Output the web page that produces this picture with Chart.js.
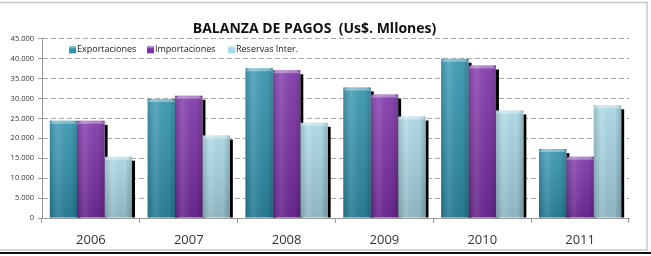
<!DOCTYPE html>
<html>
<head>
<meta charset="utf-8">
<script src="https://cdn.jsdelivr.net/npm/chart.js@4.4.1/dist/chart.umd.min.js"></script>
<style>
  html, body { margin: 0; padding: 0; background: #fff; }
  #wrap { width: 651px; height: 256px; position: relative; }
</style>
</head>
<body>
<div id="wrap"><canvas id="chart" width="651" height="256"></canvas></div>
<script>
// Datos (US$ millones)
const years = ["2006", "2007", "2008", "2009", "2010", "2011"];
const exportaciones = [24400, 29900, 37600, 32800, 40000, 17300];
const importaciones = [24400, 30700, 37100, 31000, 38300, 15400];
const reservas = [15400, 20700, 23900, 25500, 27000, 28300];
const seriesNames = ["Exportaciones", "Importaciones", "Reservas Inter."];
const seriesColors = ["#2E93B0", "#7B2EA8", "#A9D8E7"];

function fmt(v) {
    // separador de miles con punto
    return String(v).replace(/\B(?=(\d{3})+(?!\d))/g, ".");
}

// Sombra negra a la derecha de cada barra
const shadowPlugin = {
    id: "shadows",
    beforeDatasetsDraw(chart) {
        const ctx = chart.ctx;
        ctx.save();
        ctx.fillStyle = "#000";
        chart.data.datasets.forEach((ds, i) => {
            chart.getDatasetMeta(i).data.forEach(bar => {
                const right = bar.x + bar.width / 2;
                ctx.fillRect(right, bar.y + 4, 3, bar.base - bar.y - 4);
            });
        });
        ctx.restore();
    }
};

// Brillo y bisel de cada barra
const shinePlugin = {
    id: "shine",
    afterDatasetsDraw(chart) {
        const ctx = chart.ctx;
        ctx.save();
        chart.data.datasets.forEach((ds, i) => {
            chart.getDatasetMeta(i).data.forEach(bar => {
                const left = bar.x - bar.width / 2;
                const w = bar.width;
                const h = bar.base - bar.y;
                let g = ctx.createLinearGradient(left, 0, left + w, 0);
                g.addColorStop(0, "rgba(0,0,0,0.18)");
                g.addColorStop(0.3, "rgba(255,255,255,0.12)");
                g.addColorStop(0.75, "rgba(0,0,0,0.02)");
                g.addColorStop(1, "rgba(0,0,0,0.22)");
                ctx.fillStyle = g;
                ctx.fillRect(left, bar.y, w, h);
                let v = ctx.createLinearGradient(0, bar.y, 0, bar.base);
                v.addColorStop(0, "rgba(255,255,255,0.12)");
                v.addColorStop(1, "rgba(0,0,0,0.14)");
                ctx.fillStyle = v;
                ctx.fillRect(left, bar.y, w, h);
                // tapa superior
                ctx.fillStyle = "rgba(255,255,255,0.35)";
                ctx.beginPath();
                ctx.moveTo(left, bar.y + 3);
                ctx.lineTo(left + 3, bar.y);
                ctx.lineTo(left + w - 3, bar.y);
                ctx.lineTo(left + w, bar.y + 3);
                ctx.closePath();
                ctx.fill();
            });
        });
        ctx.restore();
    }
};

// Leyenda dentro del área del gráfico y marco exterior
const framePlugin = {
    id: "frame",
    afterDraw(chart) {
        const ctx = chart.ctx;
        const area = chart.chartArea;
        ctx.save();
        ctx.font = "9px 'Open Sans', sans-serif";
        ctx.textBaseline = "middle";
        const y = area.top + 11;
        let x = area.left + 27;
        const gaps = [78, 81, 0];
        chart.data.datasets.forEach((ds, i) => {
            ctx.fillStyle = ds.backgroundColor;
            ctx.fillRect(x, y - 3.5, 7, 7);
            ctx.fillStyle = "rgba(255,255,255,0.35)";
            ctx.fillRect(x, y - 3.5, 7, 2);
            ctx.fillStyle = "#222";
            ctx.fillText(ds.label, x + 8, y);
            x += gaps[i];
        });
        ctx.strokeStyle = "#c8c8c8";
        ctx.lineWidth = 1.5;
        ctx.strokeRect(-2, 2.5, 649, 247.5);
        ctx.strokeStyle = "#111";
        ctx.lineWidth = 2;
        ctx.beginPath();
        ctx.moveTo(0, 253);
        ctx.lineTo(651, 253);
        ctx.stroke();
        ctx.restore();
    }
};

new Chart(document.getElementById("chart"), {
    type: "bar",
    data: {
        labels: years,
        datasets: [
            { label: seriesNames[0], data: exportaciones, backgroundColor: seriesColors[0] },
            { label: seriesNames[1], data: importaciones, backgroundColor: seriesColors[1] },
            { label: seriesNames[2], data: reservas, backgroundColor: seriesColors[2] }
        ]
    },
    options: {
        responsive: false,
        animation: false,
        layout: { padding: { left: 0, right: 22, top: 1, bottom: 0 } },
        datasets: { bar: { barPercentage: 1, categoryPercentage: 0.84 } },
        plugins: {
            legend: { display: false },
            tooltip: { enabled: false },
            title: {
                display: true,
                text: "BALANZA DE PAGOS  (Us$. Mllones)",
                color: "#111",
                font: { family: "'Open Sans', sans-serif", size: 14, weight: "bold" },
                padding: { top: 20, bottom: 1 }
            }
        },
        scales: {
            x: {
                grid: { display: true, offset: true, drawOnChartArea: false, tickLength: 5, color: "#999" },
                border: { color: "#999" },
                ticks: { color: "#333", padding: 9, font: { family: "'Open Sans', sans-serif", size: 13 } },
                afterFit(scale) { scale.height = 38; }
            },
            y: {
                min: 0,
                max: 45000,
                ticks: {
                    stepSize: 5000,
                    color: "#333",
                    padding: 4,
                    font: { family: "'Open Sans', sans-serif", size: 7.5 },
                    callback: v => fmt(v)
                },
                grid: { color: "#a8a8a8", tickLength: 4, tickColor: "#999", tickBorderDash: [] },
                border: { color: "#999", dash: [5, 3] },
                afterFit(scale) { scale.width = 42; }
            }
        }
    },
    plugins: [shadowPlugin, shinePlugin, framePlugin]
});
</script>
</body>
</html>
